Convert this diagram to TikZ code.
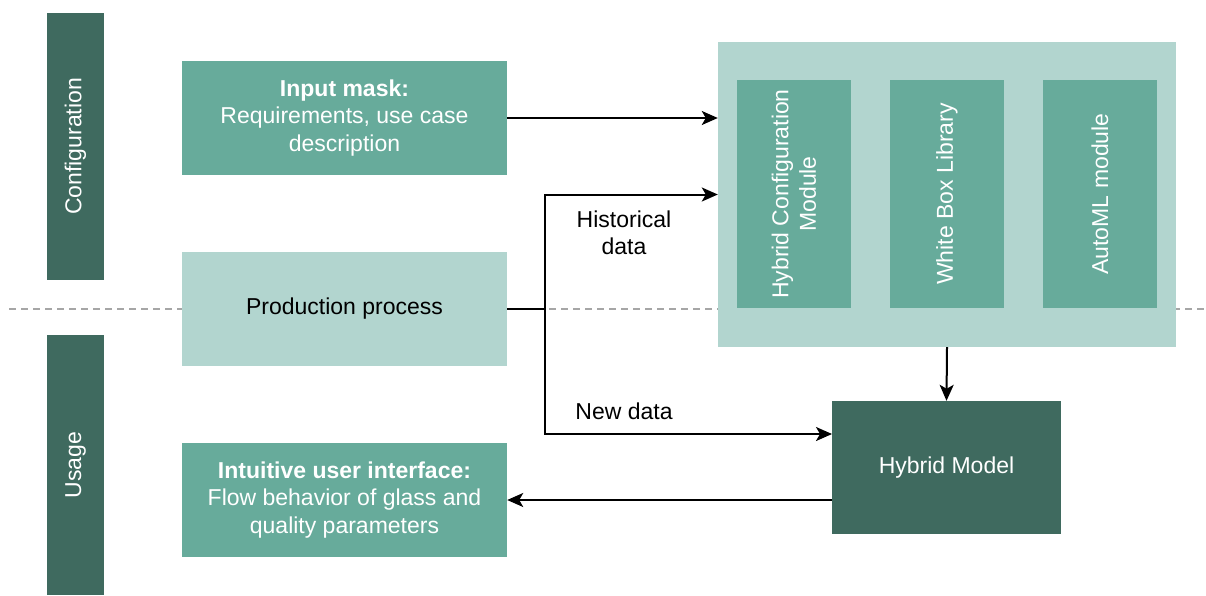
\documentclass[tikz,border=0pt]{standalone}
\usepackage{fontspec}
\setmainfont{Liberation Sans}
\usepackage{xcolor}
\usetikzlibrary{arrows.meta}

\definecolor{darkgreen}{HTML}{3F6A5F}
\definecolor{midgreen}{HTML}{67AB9B}
\definecolor{lightgreen}{HTML}{B2D5CF}
\definecolor{sepgray}{HTML}{A6A6A6}

\begin{document}
\begin{tikzpicture}[x=1pt,y=-1pt,
    font=\fontsize{23}{27.5}\selectfont,
    bar/.style={fill=darkgreen, text=white, rotate=90, inner sep=0pt,
      minimum height=57pt},
    box/.style={fill=midgreen, text=white, align=center, inner sep=0pt,
      minimum width=325pt, minimum height=114pt},
    module/.style={fill=midgreen, text=white, align=center, rotate=90,
      inner sep=0pt, minimum width=228pt, minimum height=114pt},
    line/.style={line width=2pt, black},
    arr/.style={line, -{Stealth[length=16pt,width=14pt,inset=4pt]}}]
      \useasboundingbox (0,0) rectangle (1206,595);

      % phase separator
      \draw[sepgray, line width=2pt, dash pattern=on 7pt off 5pt] (9,309) -- (1206,309);

      % phase bars
      \node (confbar)[bar, minimum width=267pt] at (75.5,146.5) {Configuration};
      \node (usebar)[bar, minimum width=260pt] at (75.5,465) {Usage};

      % left column
      \node (inmask)[box] at (344.5,118) {\textbf{Input mask:}\\Requirements, use case\\description};
      \node (prodproc)[box, fill=lightgreen, text=black] at (344.5,309) {Production process};
      \node (uiface)[box] at (344.5,500) {\textbf{Intuitive user interface:}\\Flow behavior of glass and\\quality parameters};

      % configuration container
      \node (cont)[fill=lightgreen, minimum width=458pt, minimum height=305pt, inner sep=0pt] at (947,194.5) {};
      \node (hcm)[module] at (794,194) {Hybrid Configuration\\Module};
      \node (wbl)[module] at (947,194) {White Box Library};
      \node (automl)[module] at (1100,194) {AutoML module};

      \node (hmodel)[fill=darkgreen, text=white, minimum width=229pt, minimum height=133pt, inner sep=0pt] at (946.5,467.5) {Hybrid Model};

      % data flow
      \coordinate (split) at (545,309);
      \coordinate (newin) at (832,434);
      \draw[arr] (inmask.east) -- (inmask.east -| cont.west);
      \draw[line] (prodproc.east) -- (split);
      \draw[arr] (split) |- (cont.west);
      \draw[arr] (split) |- (newin);
      \draw[arr] (cont.south) -- (hmodel.north);
      \draw[arr] (hmodel.west |- uiface.east) -- (uiface.east);

      \node (histlbl)[align=center] at (624,233) {Historical\\data};
      \node (newlbl) at (624,411) {New data};
\end{tikzpicture}
\end{document}
